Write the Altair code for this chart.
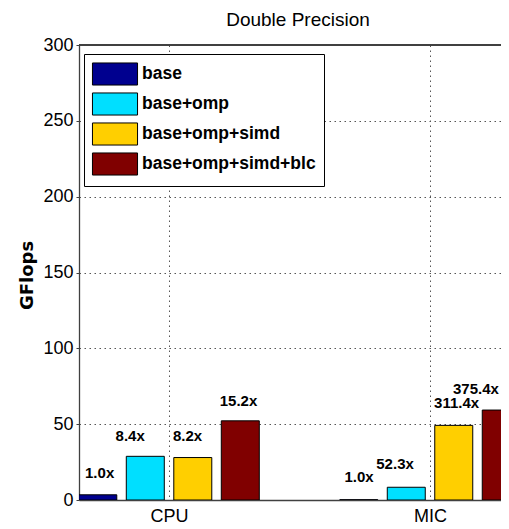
import altair as alt
import pandas as pd

# ---- data ----
categories = ["CPU", "MIC"]
category_pos = [1, 2]
series = ["base", "base+omp", "base+omp+simd", "base+omp+simd+blc"]
colors = ["#00008F", "#00DFFF", "#FFCF00", "#800000"]
cpu_gflops = [3.43, 28.8, 28.0, 52.2]
mic_gflops = [0.16, 8.4, 49.2, 59.3]
cpu_speedup = ["1.0x", "8.4x", "8.2x", "15.2x"]
mic_speedup = ["1.0x", "52.3x", "311.4x", "375.4x"]
# annotation anchor points (data units), as placed in the original figure
cpu_label_x = [0.734, 0.851, 1.071, 1.266]
cpu_label_y = [18.0, 42.2, 42.2, 65.5]
mic_label_x = [1.728, 1.866, 2.102, 2.176]
mic_label_y = [15.4, 23.7, 63.8, 73.2]
y_ticks = [0, 50, 100, 150, 200, 250, 300]
chart_title = "Double Precision"

FONT = "Liberation Sans, Arial, sans-serif"
GRID = "#555555"
AXC = "#404040"
W, H = 422, 455

rows = []
for cat, pos, vals in [("CPU", category_pos[0], cpu_gflops), ("MIC", category_pos[1], mic_gflops)]:
    for i, (s, v) in enumerate(zip(series, vals)):
        rows.append({"category": cat, "pos": pos, "idx": i, "series": s, "gflops": v})
bars_df = pd.DataFrame(rows)

lab_rows = []
for labs, lx, ly in [(cpu_speedup, cpu_label_x, cpu_label_y), (mic_speedup, mic_label_x, mic_label_y)]:
    for t, a, b in zip(labs, lx, ly):
        lab_rows.append({"label": t, "lx": a, "ly": b})
labels_df = pd.DataFrame(lab_rows)

xscale = alt.Scale(domain=[0.655, 2.272], nice=False, zero=False)
yscale = alt.Scale(domain=[0, 300], nice=False)
xaxis = alt.Axis(
    title=None, values=[1, 2],
    labelExpr="datum.value == 1 ? 'CPU' : (datum.value == 2 ? 'MIC' : '')",
    grid=True, gridDash=[1.5, 3.5], gridColor=GRID, gridOpacity=1, gridWidth=1,
    ticks=False, labelPadding=7, labelFont=FONT, labelFontSize=18,
    labelColor="black", labelBaseline="top", domainColor=AXC, domainWidth=1.3,
)
yaxis = alt.Axis(
    title="GFlops", values=y_ticks,
    grid=True, gridDash=[1.5, 3.5], gridColor=GRID, gridOpacity=1, gridWidth=1,
    tickSize=3, tickColor=AXC, labelPadding=3, labelFont=FONT, labelFontSize=18,
    labelFontWeight=500, labelColor="black", domainColor=AXC, domainWidth=1.3,
    titleFont="DejaVu Sans", titleFontSize=18, titleFontWeight="bold", titleColor="black",
    titleAngle=270, titleX=-52, titleY=230, titleAlign="center", titleBaseline="middle",
)

bars = alt.Chart(bars_df).transform_calculate(
    x0="datum.pos + (datum.idx - 1.5) * 0.182 - 0.0728",
    x1="datum.pos + (datum.idx - 1.5) * 0.182 + 0.0728",
).mark_bar(stroke="black", strokeWidth=1, clip=True, opacity=1).encode(
    x=alt.X("x0:Q", scale=xscale, axis=xaxis),
    x2="x1:Q",
    y=alt.Y("gflops:Q", scale=yscale, axis=yaxis),
    y2=alt.datum(0),
    fill=alt.Fill(
        "series:N", sort=series,
        scale=alt.Scale(domain=series, range=colors),
        legend=alt.Legend(
            title=None, orient="none", legendX=5, legendY=9,
            fillColor="white", strokeColor="black", padding=8, rowPadding=2,
            symbolType="M-1.96,-0.96H1.96V0.96H-1.96Z", symbolSize=529,
            symbolOffset=11,
            symbolStrokeColor="black", symbolStrokeWidth=1, symbolOpacity=1,
            labelFont=FONT, labelFontSize=17.5, labelFontWeight="bold",
            labelColor="black", labelOffset=15, labelLimit=400,
        ),
    ),
)

texts = alt.Chart(labels_df).mark_text(
    font=FONT, fontSize=15, fontWeight="bold", color="black",
    align="center", baseline="middle", clip=True,
).encode(
    x=alt.X("lx:Q", scale=xscale, axis=xaxis),
    y=alt.Y("ly:Q", scale=yscale, axis=yaxis),
    text="label:N",
)

top_border = alt.Chart(bars_df).mark_rule(color=AXC, strokeWidth=1.3).encode(
    x=alt.value(0), x2=alt.value(W), y=alt.value(0)
)

title_mark = alt.Chart(pd.DataFrame({"t": [chart_title]})).mark_text(
    font=FONT, fontSize=19, fontWeight="normal", color="black",
    align="center", baseline="middle",
).encode(x=alt.value(219), y=alt.value(-25), text="t:N")

chart = alt.layer(bars, texts, top_border, title_mark).properties(
    width=W, height=H,
    autosize=alt.AutoSizeParams(type="none"),
    padding={"left": 71, "top": 37, "right": 0, "bottom": 29},
).configure_view(stroke=None).configure(background="white")

chart.save("out.html", embed_options={"renderer": "svg", "actions": False})
